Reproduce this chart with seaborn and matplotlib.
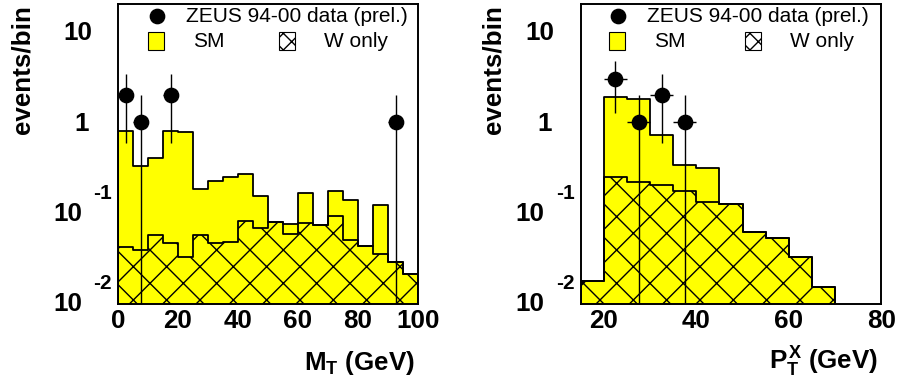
import numpy as np
import pandas as pd
import matplotlib
matplotlib.use("Agg")
import matplotlib.pyplot as plt
import seaborn as sns
from matplotlib.patches import Rectangle
from matplotlib.lines import Line2D
from matplotlib.ticker import LogLocator, NullFormatter, MultipleLocator
from matplotlib.transforms import ScaledTranslation, blended_transform_factory

# ---- M_T distribution (5 GeV bins, 0-100 GeV) ----
mt_edges = list(range(0, 105, 5))
mt_sm = [0.79, 0.33, 0.40, 0.81, 0.78, 0.18, 0.224, 0.25, 0.27, 0.154,
         0.079, 0.075, 0.164, 0.073, 0.172, 0.138, 0.043, 0.12, 0.0286, 0.021]
mt_w = [0.042, 0.0385, 0.0565, 0.046, 0.0325, 0.0565, 0.0457, 0.047, 0.0815, 0.068,
        0.079, 0.058, 0.077, 0.073, 0.091, 0.05, 0.043, 0.0346, 0.0286, 0.021]
mt_data_x = [2.5, 7.5, 17.5, 92.5]
mt_data_n = [2, 1, 2, 1]

# ---- hadronic P_T distribution (5 GeV bins, 15-70 GeV) ----
pt_edges = list(range(15, 75, 5))
pt_sm = [0.0176, 1.92, 1.80, 0.723, 0.337, 0.31, 0.124, 0.0615, 0.052, 0.032, 0.0151]
pt_w = [0.0176, 0.25, 0.217, 0.202, 0.175, 0.132, 0.124, 0.0615, 0.052, 0.032, 0.0151]
pt_data_x = [22.5, 27.5, 32.5, 37.5]
pt_data_n = [3, 1, 2, 1]

legend_data = "ZEUS 94-00 data (prel.)"
legend_sm = "SM"
legend_w = "W only"
ylabel = "events/bin"

sns.set_style("white")
plt.rcParams["font.family"] = ["Liberation Sans", "DejaVu Sans"]
plt.rcParams["mathtext.fontset"] = "custom"
plt.rcParams["mathtext.rm"] = "Liberation Sans:bold"
plt.rcParams["mathtext.it"] = "Liberation Sans:bold"
plt.rcParams["mathtext.bf"] = "Liberation Sans:bold"
plt.rcParams["hatch.linewidth"] = 1.0
for key in ("text.color", "axes.labelcolor", "xtick.color", "ytick.color", "axes.edgecolor"):
    plt.rcParams[key] = "black"

W, H = 898, 384
fig = plt.figure(figsize=(W / 100, H / 100), dpi=100)
YELLOW = "#ffff00"
TICK_FS = 18.7


def px(dx, dy):
    return ScaledTranslation(dx / 100, dy / 100, fig.dpi_scale_trans)


def fx(x):
    return x / W


def fy(y):
    return 1 - y / H


def panel(rect, edges, sm, w, dx, dn, xlim, xlabel, xmajor):
    ax = fig.add_axes(rect)
    ax.set_yscale("log")
    e = np.asarray(edges, dtype=float)
    centers = (e[:-1] + e[1:]) / 2
    df = pd.DataFrame({"x": centers, "sm": sm, "w": w})
    sns.histplot(data=df, x="x", weights="sm", bins=edges, element="step", fill=True,
                 color=YELLOW, alpha=1, edgecolor="black", linewidth=1.3, ax=ax)
    sns.histplot(data=df, x="x", weights="w", bins=edges, element="step", fill=True,
                 color="black", facecolor="none", edgecolor="black", hatch="x",
                 linewidth=1.3, ax=ax)
    n = np.asarray(dn, dtype=float)
    err = np.sqrt(n)
    ax.errorbar(dx, n, yerr=[err, err], xerr=2.5, fmt="o", color="black",
                ms=10.3, elinewidth=1.0, capsize=0, zorder=5, clip_on=True)
    ax.set_xlim(*xlim)
    ax.set_ylim(0.0097, 20.4)
    ax.set_xlabel("")
    ax.set_ylabel("")

    for s in ax.spines.values():
        s.set_linewidth(1.4)
        s.set_color("black")
    ax.yaxis.set_major_locator(LogLocator(base=10, numticks=10))
    ax.yaxis.set_minor_locator(LogLocator(base=10, subs=np.arange(2, 10), numticks=20))
    ax.yaxis.set_major_formatter(NullFormatter())
    ax.yaxis.set_minor_formatter(NullFormatter())
    ax.xaxis.set_major_locator(MultipleLocator(xmajor))
    ax.xaxis.set_minor_locator(MultipleLocator(5))
    ax.tick_params(axis="both", which="both", direction="in", top=False, right=False,
                   color="black", labelcolor="black", width=1.0)
    ax.tick_params(axis="y", which="major", length=12.2)
    ax.tick_params(axis="y", which="minor", length=6.1)
    ax.tick_params(axis="x", which="major", length=11, pad=3.5)
    ax.tick_params(axis="x", which="minor", length=5.8)
    for lab in ax.get_xticklabels():
        lab.set_fontsize(TICK_FS)
        lab.set_fontweight("bold")
        lab.set_color("black")

    # ROOT-style power-of-ten labels on the y axis
    tr = blended_transform_factory(ax.transAxes, ax.transData)
    for val, base, sup in [(10, "10", None), (1, "1", None), (0.1, "10", "-1"), (0.01, "10", "-2")]:
        if sup is None:
            off = -26 if base == "10" else -29
            ax.text(0, val, base, transform=tr + px(off, -1.5), ha="right", va="center",
                    fontsize=TICK_FS, fontweight="bold", color="black")
        else:
            ax.text(0, val, base, transform=tr + px(-36, -1.5), ha="right", va="center",
                    fontsize=TICK_FS, fontweight="bold", color="black")
            ax.text(0, val, sup, transform=tr + px(-25, 19), ha="left", va="center",
                    fontsize=15, fontweight="bold", color="black")

    # axis title at the right end of the x axis
    ax.text(1, 0, xlabel, transform=ax.transAxes + px(-3, -66), ha="right", va="baseline",
            fontsize=TICK_FS, fontweight="bold", color="black")
    return ax


ax1 = panel([118 / W, 80 / H, 300 / W, 300 / H], mt_edges, mt_sm, mt_w,
            mt_data_x, mt_data_n, (0, 100), r"$M_T$ (GeV)", 20)
ax2 = panel([580.7 / W, 80 / H, 300.6 / W, 300 / H], pt_edges, pt_sm, pt_w,
            pt_data_x, pt_data_n, (15, 80), r"$P_T^X$ (GeV)", 20)

# y titles
for xb in (30, 501):
    fig.text(fx(xb), fy(5), ylabel, rotation=90, rotation_mode="anchor",
             ha="right", va="baseline", fontsize=TICK_FS, fontweight="bold", color="black")

# legends
for mk, tx, yb, sm_x, hb, w_x in [(157, 186, 148, 193, 279, 324),
                                  (618, 647, 609, 654, 745, 790)]:
    fig.add_artist(Line2D([fx(mk)], [fy(16)], marker="o", ms=10.3, color="black",
                          transform=fig.transFigure))
    fig.text(fx(tx), fy(16.5), legend_data, ha="left", va="center", fontsize=15, color="black")
    fig.add_artist(Rectangle((fx(yb), fy(50)), 16 / W, 18 / H, transform=fig.transFigure,
                             facecolor=YELLOW, edgecolor="black", lw=0.8))
    fig.text(fx(sm_x), fy(41.5), legend_sm, ha="left", va="center", fontsize=15, color="black")
    fig.add_artist(Rectangle((fx(hb), fy(50)), 16 / W, 18 / H, transform=fig.transFigure,
                             facecolor="white", edgecolor="black", hatch="xx", lw=0.8))
    fig.text(fx(w_x), fy(41.5), legend_w, ha="left", va="center", fontsize=15, color="black")

fig.savefig("out.png", dpi=100)
